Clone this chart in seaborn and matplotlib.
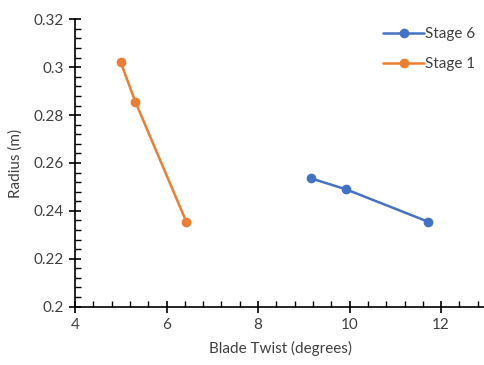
import matplotlib
matplotlib.use("Agg")
import matplotlib.pyplot as plt
from matplotlib.ticker import MultipleLocator
import pandas as pd
import seaborn as sns

# Blade twist vs radius for two stages
stage6_twist = [9.15, 9.92, 11.71]
stage6_radius = [0.2536, 0.2490, 0.2355]
stage1_twist = [5.00, 5.32, 6.43]
stage1_radius = [0.3020, 0.2855, 0.2355]
series_names = ["Stage 6", "Stage 1"]
series_colors = ["#4472C4", "#ED7D31"]
x_ticks = [4, 6, 8, 10, 12]
y_ticks = [0.2, 0.22, 0.24, 0.26, 0.28, 0.3, 0.32]
y_tick_labels = ["0.2", "0.22", "0.24", "0.26", "0.28", "0.3", "0.32"]

df = pd.concat([
    pd.DataFrame({"twist": stage6_twist, "radius": stage6_radius, "stage": series_names[0]}),
    pd.DataFrame({"twist": stage1_twist, "radius": stage1_radius, "stage": series_names[1]}),
])

sns.set_theme(style="white")
plt.rcParams["font.family"] = ["Lato", "DejaVu Sans"]

fig = plt.figure(figsize=(4.84, 3.65), dpi=100)
ax = fig.add_axes([0.155, 0.16, 0.851, 0.787])

sns.lineplot(data=df, x="twist", y="radius", hue="stage", hue_order=series_names,
             palette=series_colors, sort=False, marker="o", markersize=7,
             markeredgewidth=0, linewidth=1.8, ax=ax)

ax.set_xlim(4, 13)
ax.set_ylim(0.2, 0.32)
ax.set_xticks(x_ticks)
ax.set_xticklabels([str(t) for t in x_ticks])
ax.set_yticks(y_ticks)
ax.set_yticklabels(y_tick_labels)
ax.xaxis.set_minor_locator(MultipleLocator(0.4))
ax.yaxis.set_minor_locator(MultipleLocator(0.004))

for side in ["top", "right"]:
    ax.spines[side].set_visible(False)
for side in ["left", "bottom"]:
    ax.spines[side].set_color("black")
    ax.spines[side].set_linewidth(1.2)

ax.tick_params(which="major", direction="inout", length=8, width=1.2, color="black",
               labelsize=11, labelcolor="#404040", pad=4, left=True, bottom=True)
ax.tick_params(which="minor", direction="in", length=4, width=1.0, color="black",
               left=True, bottom=True)

ax.set_xlabel("Blade Twist (degrees)", fontsize=11, color="#404040", labelpad=7)
ax.set_ylabel("Radius (m)", fontsize=11, color="#404040", labelpad=8)

leg = ax.legend(loc="upper right", bbox_to_anchor=(1.005, 1.02), frameon=False,
                fontsize=11, handlelength=2.7, handletextpad=0.05, labelspacing=1.05,
                title=None)
for t in leg.get_texts():
    t.set_color("#404040")

fig.savefig("out.png", dpi=100)
